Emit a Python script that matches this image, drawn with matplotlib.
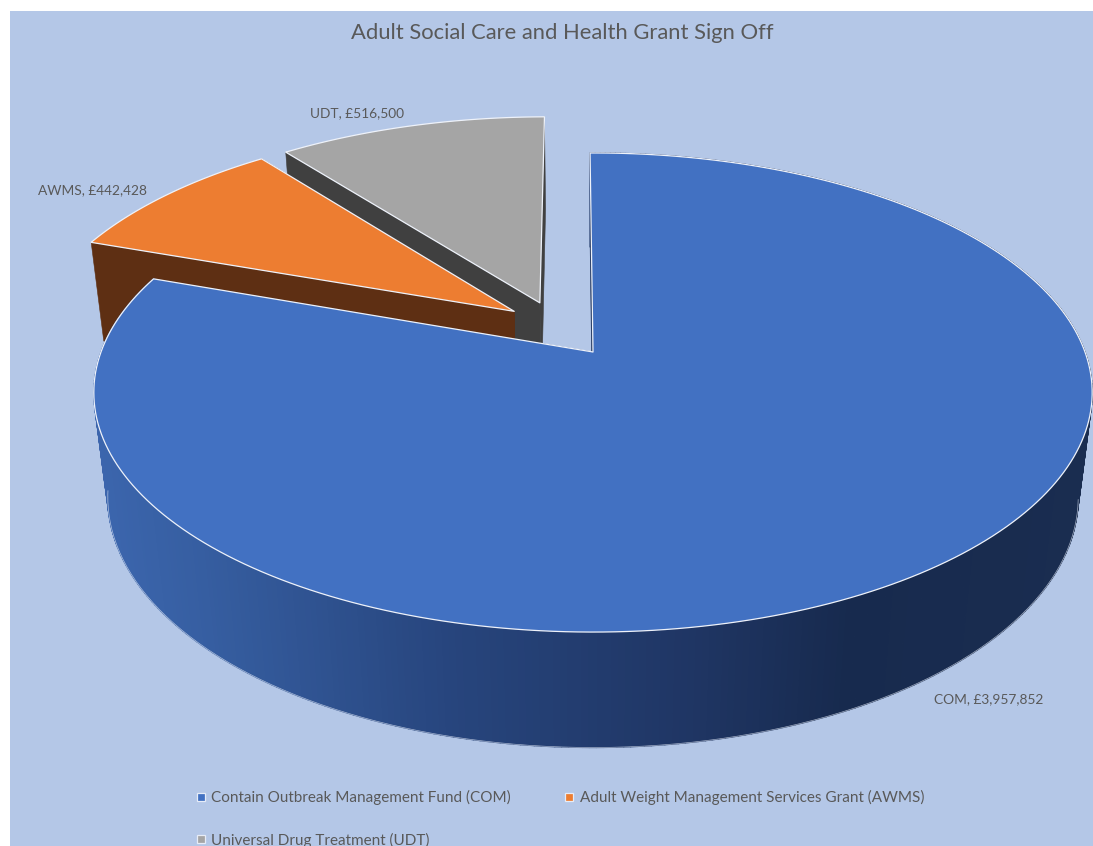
import numpy as np
import matplotlib
matplotlib.use("Agg")
import matplotlib.pyplot as plt
from matplotlib.patches import Polygon, Rectangle
from matplotlib.collections import PolyCollection
from matplotlib.lines import Line2D
from matplotlib.colors import to_rgb

# Grant totals in pounds
codes = ["COM", "AWMS", "UDT"]
names = ["Contain Outbreak Management Fund (COM)",
         "Adult Weight Management Services Grant (AWMS)",
         "Universal Drug Treatment (UDT)"]
values = [3957852, 442428, 516500]

top_colors = ["#4271c2", "#ed7d31", "#a5a5a5"]
wall_colors = ["#1b2f57", "#5e2f13", "#404040"]
# Pull-out of each slice on the pie plane (x, y; radius = 1)
explode = [(0.0, 0.0), (-0.165, 0.180), (-0.112, 0.219)]
label_pos = [(934, 699), (38, 190), (310, 113)]

# Perspective of the pie plane, in pixels
CX, APEX_Y = 593.0, 352.0
A, B, K = 492.0, 232.7, 0.1691
DEPTH_W, DEPTH_Y = 0.028, 107.0
START_DEG = -0.4


def project(x, y, bottom=False):
    """Map pie-plane points to pixel coordinates, on the top or bottom face."""
    x, y = np.asarray(x, float), np.asarray(y, float)
    w = 1 + K * y + (DEPTH_W if bottom else 0.0)
    yy = B * y - (DEPTH_Y if bottom else 0.0)
    return CX + A * x / w, APEX_Y - yy / w


def rim(a0, a1, off, n=240, bottom=False):
    t = np.radians(np.linspace(a0, a1, n))
    return np.column_stack(project(np.sin(t) + off[0], np.cos(t) + off[1], bottom))


def side_color(px):
    stops_x = [90, 200, 450, 700, 850, 1095]
    stops_c = ["#3c66ae", "#365ea1", "#27457d", "#1f3563", "#172a4e", "#1a2d50"]
    rgb = np.array([to_rgb(c) for c in stops_c])
    return [np.interp(px, stops_x, rgb[:, i]) for i in range(3)]


fig = plt.figure(figsize=(10.93, 8.46), dpi=100, facecolor="white")
ax = fig.add_axes([0, 0, 1, 1])
ax.set_xlim(0, 1093)
ax.set_ylim(846, 0)
ax.axis("off")
plt.rcParams["font.family"] = ["Lato", "DejaVu Sans"]
ax.add_patch(Rectangle((10, 11), 1090, 840, facecolor="#b4c7e7", edgecolor="none", zorder=0))

fractions = np.array(values, float) / sum(values)
edges = START_DEG + np.concatenate([[0], np.cumsum(fractions)]) * 360

# Slices are painted back to front: UDT, AWMS, then COM
for idx in [2, 1, 0]:
    a0, a1 = edges[idx], edges[idx + 1]
    off = explode[idx]
    z = 2 + (2 - idx) * 3
    apex_t = np.array(project(off[0], off[1])).reshape(1, 2)
    apex_b = np.array(project(off[0], off[1], True)).reshape(1, 2)

    if idx == 0:
        # Curved outer wall with its horizontal shading
        ang = np.linspace(a0, a1, 421)
        tops = rim(a0, a1, off, 421)
        bots = rim(a0, a1, off, 421, True)
        quads = [np.vstack([tops[i], tops[i + 1], bots[i + 1], bots[i]]) for i in range(420)]
        order = np.argsort(np.cos(np.radians(ang[:-1])))[::-1]
        cols = [side_color(0.5 * (tops[i, 0] + tops[i + 1, 0])) for i in order]
        ax.add_collection(PolyCollection([quads[i] for i in order], facecolors=cols,
                                         edgecolors=cols, linewidths=0.9, zorder=z))
        front = rim(100, 262, off, 200, True)
        ax.plot(front[:, 0], front[:, 1], color="#dfe7f5", lw=0.5, alpha=0.7, zorder=z)

    # Flat cut faces along both straight edges of the slice
    for a in (a0, a1):
        t = project(np.sin(np.radians(a)) + off[0], np.cos(np.radians(a)) + off[1])
        b = project(np.sin(np.radians(a)) + off[0], np.cos(np.radians(a)) + off[1], True)
        ax.add_patch(Polygon(np.vstack([apex_t, np.reshape(t, (1, 2)), np.reshape(b, (1, 2)), apex_b]),
                             closed=True, facecolor=wall_colors[idx], edgecolor=wall_colors[idx],
                             lw=0.4, zorder=z + 1))

    # Top face
    outline = np.vstack([apex_t, rim(a0, a1, off)])
    ax.add_patch(Polygon(outline, closed=True, facecolor=top_colors[idx],
                         edgecolor="#eef2fa", lw=0.9, joinstyle="round", zorder=z + 2))

# Data labels
for code, val, (lx, ly) in zip(codes, values, label_pos):
    ax.text(lx, ly, f"{code}, £{val:,}", fontsize=9.9, color="#595959",
            ha="left", va="center", zorder=20)

ax.text(562, 33, "Adult Social Care and Health Grant Sign Off", fontsize=15.8,
        color="#595959", ha="center", va="center", zorder=20)

handles = [Line2D([], [], linestyle="none", marker="s", markersize=5.5, markerfacecolor=c,
                  markeredgecolor="#e6ecf7", markeredgewidth=0.9) for c in top_colors]
# Two columns filled downward give COM/AWMS on the first row and UDT below
leg_order = [0, 2, 1]
leg = ax.legend([handles[i] for i in leg_order], [names[i] for i in leg_order], ncols=2,
                loc="upper left", bbox_to_anchor=(196, 790), bbox_transform=ax.transData,
                frameon=False, fontsize=11.0, labelcolor="#595959", handlelength=0.65,
                handletextpad=0.35, columnspacing=3.5, labelspacing=1.8,
                borderpad=0, borderaxespad=0)
leg.set_zorder(20)

fig.savefig("out.png", dpi=100, facecolor="white")
